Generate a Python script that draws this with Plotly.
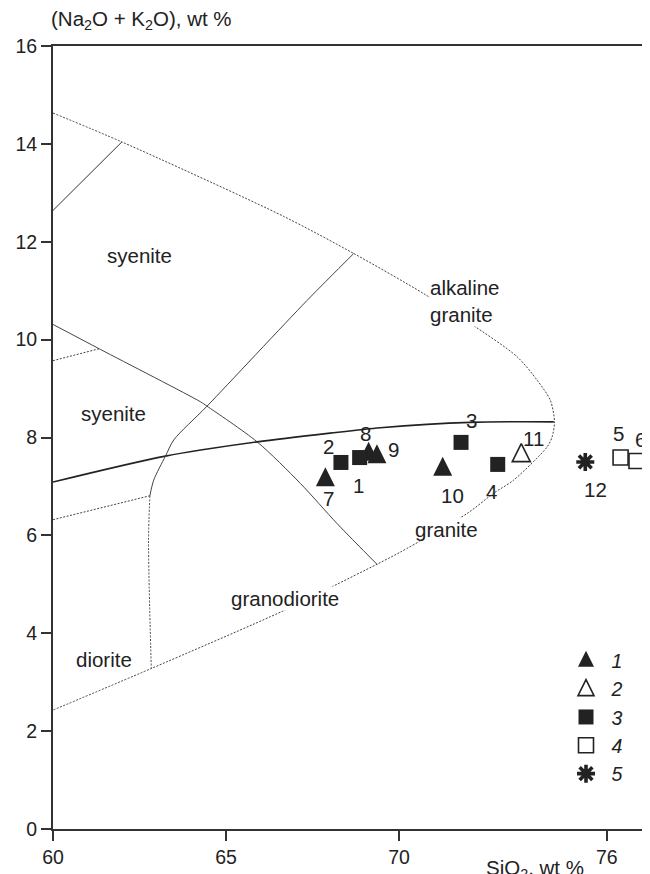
import plotly.graph_objects as go

# ---------------- data (SiO2 wt %, Na2O+K2O wt %) ----------------
# field boundaries of the classification diagram
outer_x = [60.0, 61.99, 66.66, 68.69, 70.71, 72.06, 73.41, 73.99, 74.37, 74.49, 74.42, 74.28,
           73.31, 72.73, 71.97, 70.04, 69.36, 68.06, 66.66, 62.84, 60.0]
outer_y = [14.63, 14.04, 12.52, 11.76, 10.94, 10.33, 9.65, 9.17, 8.76, 8.32, 8.01, 7.81,
           7.13, 6.86, 6.45, 5.66, 5.41, 4.95, 4.46, 3.28, 2.43]

corner_x = [60.0, 61.99]
corner_y = [12.64, 14.04]

syen_x = [60.0, 61.37, 64.26, 64.45, 65.90, 67.15, 68.21, 69.36]
syen_y = [10.31, 9.80, 8.73, 8.64, 7.91, 7.06, 6.24, 5.41]

branch_x = [60.0, 61.37]
branch_y = [9.57, 9.82]

alk_x = [60.0, 63.25, 65.90, 68.01, 69.46, 72.06, 74.47]
alk_y = [7.09, 7.62, 7.91, 8.09, 8.20, 8.31, 8.32]

low_x = [60.0, 62.80]
low_y = [6.32, 6.81]

grano_x = [68.69, 67.34, 64.45, 63.49, 63.25, 62.91, 62.80]
grano_y = [11.76, 10.80, 8.64, 7.95, 7.62, 7.13, 6.81]

dior_x = [62.80, 62.76, 62.84]
dior_y = [6.81, 5.90, 3.28]

# samples, by legend group
g1_id = ["7", "8", "9", "10"]
g1_x = [67.87, 69.12, 69.36, 71.26]
g1_y = [7.20, 7.72, 7.67, 7.41]

g2_id = ["11"]
g2_x = [73.53]
g2_y = [7.69]

g3_id = ["1", "2", "3", "4"]
g3_x = [68.86, 68.32, 71.79, 72.85]
g3_y = [7.59, 7.49, 7.90, 7.45]

g4_id = ["5", "6"]
g4_x = [76.40, 76.86]
g4_y = [7.59, 7.52]

g5_id = ["12"]
g5_x = [75.38]
g5_y = [7.50]

legend_names = ["1", "2", "3", "4", "5"]

x_ticks = [60, 65, 70, 76]
y_ticks = [0, 2, 4, 6, 8, 10, 12, 14, 16]

field_names = ["syenite", "syenite", "alkaline<br>granite", "granite", "granodiorite", "diorite"]
field_x = [62.50, 61.75, 70.86, 71.37, 66.69, 61.46]
field_y = [11.72, 8.49, 10.78, 6.11, 4.71, 3.47]

# ---------------- styling ----------------
FONT = "Liberation Sans, Arial, sans-serif"
FS = 20.5
INK = "#222222"
DOT = "2px,1.5px"

# pixel offsets of the sample number labels (dx right, dy down)
label_offsets = {
    "7": (3, 22), "2": (-12, -16), "1": (-1, 28), "8": (-3, -18), "9": (17, -4),
    "10": (10, 29), "3": (10, -22), "4": (-6, 27), "11": (12, -14), "12": (10, 28),
    "5": (-2, -24), "6": (4, -21),
}

fig = go.Figure()


def boundary(xs, ys, width=1.0, dash="solid", color="#333333", shape="linear"):
    fig.add_trace(go.Scatter(x=xs, y=ys, mode="lines", showlegend=False, hoverinfo="skip",
                             line=dict(color=color, width=width, dash=dash, shape=shape,
                                       smoothing=0.8)))


boundary(outer_x, outer_y, 1.0, DOT, "#444444", "spline")
boundary(corner_x, corner_y, 1.0)
boundary(syen_x, syen_y, 1.0, "solid", "#444444", "spline")
boundary(branch_x, branch_y, 1.0, DOT, "#444444")
boundary(alk_x, alk_y, 1.6, "solid", INK, "spline")
boundary(low_x, low_y, 1.0, DOT, "#444444")
boundary(grano_x, grano_y, 1.0, "solid", "#444444", "spline")
boundary(dior_x, dior_y, 1.0, DOT, "#444444", "spline")

# (plot marker style, legend symbol style or None when the same)
tri_fill = dict(size=19, color=INK, line=dict(width=0))
tri_open = dict(size=18, color="white", line=dict(color=INK, width=1.6))
groups = [
    (g1_x, g1_y, dict(symbol="arrow-down", angle=180, standoff=9.5, **tri_fill),
     dict(symbol="arrow-up", standoff=9.5, **tri_fill)),
    (g2_x, g2_y, dict(symbol="arrow-down", angle=180, standoff=9, **tri_open),
     dict(symbol="arrow-up", standoff=9, **tri_open)),
    (g3_x, g3_y, dict(symbol="square", size=15, color=INK, line=dict(width=0)), None),
    (g4_x, g4_y, dict(symbol="square", size=15, color="white",
                      line=dict(color=INK, width=1.6)), None),
    (g5_x, g5_y, dict(symbol="asterisk-open", size=15, color=INK,
                      line=dict(color=INK, width=3.6)), None),
]
for k, (name, (xs, ys, mk, leg_mk)) in enumerate(zip(legend_names, groups)):
    lg = "g%d" % k
    label = "<i> %s</i>" % name
    fig.add_trace(go.Scatter(x=xs, y=ys, mode="markers", name=label,
                             legendgroup=lg, showlegend=leg_mk is None,
                             marker=mk, hoverinfo="skip"))
    if leg_mk is not None:
        # legend entry only (the symbol drawn upright in the legend box)
        fig.add_trace(go.Scatter(x=[None], y=[None], mode="markers", name=label,
                                 legendgroup=lg, marker=leg_mk, hoverinfo="skip"))

annotations = []
for ids, xs, ys in [(g1_id, g1_x, g1_y), (g2_id, g2_x, g2_y), (g3_id, g3_x, g3_y),
                    (g4_id, g4_x, g4_y), (g5_id, g5_x, g5_y)]:
    for i, x, y in zip(ids, xs, ys):
        dx, dy = label_offsets[i]
        annotations.append(dict(x=x, y=y, text=i, showarrow=False, xshift=dx, yshift=-dy,
                                font=dict(family=FONT, size=FS, color=INK)))

for t, x, y in zip(field_names, field_x, field_y):
    annotations.append(dict(x=x, y=y, text=t, showarrow=False,
                            xanchor="left" if "<br>" in t else "center", align="left",
                            bgcolor="white", borderpad=0,
                            font=dict(family=FONT, size=FS, color=INK)))

annotations.append(dict(xref="paper", yref="paper", x=-0.0067, y=1.0332, xanchor="left",
                        yanchor="middle", showarrow=False,
                        text="(Na<sub>2</sub>O + K<sub>2</sub>O), wt %",
                        font=dict(family=FONT, size=FS, color=INK)))
annotations.append(dict(xref="paper", yref="paper", x=0.807, y=-0.032, xanchor="center",
                        yanchor="top", showarrow=False, text="SiO<sub>2</sub>, wt %",
                        font=dict(family=FONT, size=FS, color=INK)))

axis_common = dict(showgrid=False, zeroline=False, showline=True, linecolor="#333333",
                   linewidth=2, ticks="outside", ticklen=10, tickwidth=2, tickcolor="#333333",
                   tickfont=dict(family=FONT, size=19.5, color=INK))

# the page body has an 8 px margin, so the figure is made 8 px smaller and shifted
fig.update_layout(
    width=642, height=866,
    margin=dict(l=45, r=0, t=38, b=45),
    paper_bgcolor="white", plot_bgcolor="white",
    xaxis=dict(range=[60, 77.25], tickvals=x_ticks, mirror=True, **axis_common),
    yaxis=dict(range=[0, 16], tickvals=y_ticks, mirror=False, **axis_common),
    showlegend=True,
    legend=dict(x=0.8593, y=0.240, xanchor="left", yanchor="top", bgcolor="rgba(0,0,0,0)",
                font=dict(family=FONT, size=19.5, color=INK), tracegroupgap=0,
                itemwidth=30),
    annotations=annotations,
)

fig.write_html("out.html")
